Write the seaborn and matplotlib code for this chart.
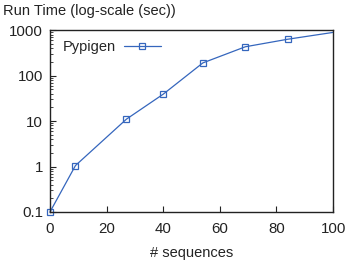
import matplotlib
matplotlib.use("Agg")
import matplotlib.pyplot as plt
import matplotlib.ticker as mticker
import seaborn as sns
import pandas as pd

sequences = [0, 9, 27, 40, 54, 69, 84, 100]
run_time = [0.1, 1.05, 11, 39, 190, 430, 630, 890]
series_name = "Pypigen"
y_ticks = [0.1, 1, 10, 100, 1000]
y_tick_labels = ["0.1", "1", "10", "100", "1000"]
x_ticks = [0, 20, 40, 60, 80, 100]

df = pd.DataFrame({"seq": sequences, "time": run_time, "series": series_name})

sns.set_style("ticks")
plt.rcParams["font.family"] = ["Liberation Sans", "DejaVu Sans"]
plt.rcParams["font.size"] = 10.5

fig = plt.figure(figsize=(3.47, 2.64), dpi=100)
ax = fig.add_axes([0.144, 0.197, 0.816, 0.689])

color = "#3566bd"
sns.lineplot(data=df, x="seq", y="time", ax=ax, color=color, linewidth=0.9,
             marker="s", markersize=5, markerfacecolor="none",
             markeredgecolor=color, markeredgewidth=0.9, label=series_name,
             markevery=list(range(len(sequences) - 1)), clip_on=False)

ax.set_yscale("log")
ax.set_xlim(0, 100)
ax.set_ylim(0.1, 1000)
ax.set_yticks(y_ticks)
ax.set_yticklabels(y_tick_labels)
ax.set_xticks(x_ticks)
ax.yaxis.set_minor_locator(mticker.LogLocator(base=10, subs=range(2, 10)))
ax.yaxis.set_minor_formatter(mticker.NullFormatter())
ax.tick_params(axis="both", which="major", direction="in", length=4, width=0.8,
               labelsize=10.8, colors="#222222")
ax.tick_params(axis="x", which="major", pad=7)
ax.tick_params(axis="y", which="major", pad=5)
ax.tick_params(axis="y", which="minor", direction="in", length=2, width=0.6)
ax.tick_params(top=False, right=False)
for s in ax.spines.values():
    s.set_color("#222222")
    s.set_linewidth(1.0)

ax.set_xlabel("")
ax.set_ylabel("")
fig.text(0.5 * (0.144 + 0.96), 0.042, "# sequences", ha="center", va="center",
         fontsize=10.5, color="#222222")
fig.text(0.008, 0.958, "Run Time (log-scale (sec))", ha="left", va="center",
         fontsize=10.5, color="#222222")

leg = ax.legend(loc="upper left", frameon=False, markerfirst=False,
                fontsize=10.5, handlelength=2.5, handletextpad=0.55,
                borderaxespad=0.3, bbox_to_anchor=(0.01, 1.0))

fig.savefig("out.png", dpi=100)
